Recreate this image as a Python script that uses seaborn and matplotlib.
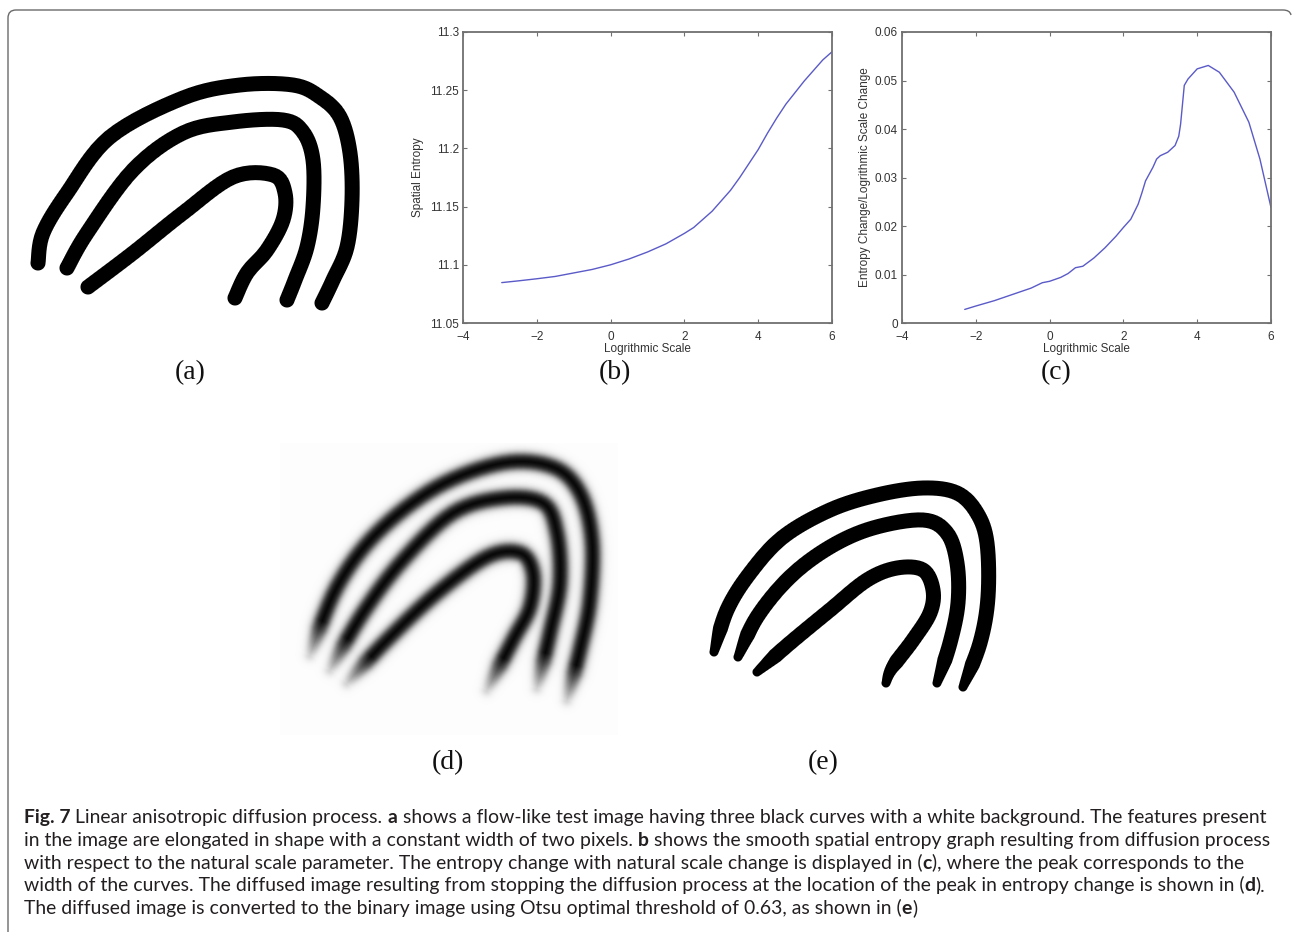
import numpy as np
import matplotlib
matplotlib.use("Agg")
import matplotlib.pyplot as plt
import seaborn as sns
from matplotlib.path import Path
from matplotlib.patches import PathPatch
from matplotlib.ticker import FuncFormatter

# (b) spatial entropy vs logarithmic scale
scale_b = [-2.95, -2.5, -2.0, -1.5, -1.0, -0.5, 0.0, 0.5, 1.0, 1.5, 2.0, 2.25, 2.5,
           2.75, 3.0, 3.25, 3.5, 3.75, 4.0, 4.25, 4.5, 4.75, 5.0, 5.25, 5.5, 5.75, 6.0]
entropy_b = [11.0847, 11.0862, 11.088, 11.090, 11.093, 11.096, 11.100, 11.105,
             11.111, 11.118, 11.127, 11.132, 11.139, 11.146, 11.155, 11.164,
             11.175, 11.187, 11.199, 11.213, 11.226, 11.238, 11.248, 11.258,
             11.267, 11.276, 11.283]

# (c) entropy change / log scale change
scale_c = [-2.3, -2.0, -1.5, -1.0, -0.5, -0.2, 0.0, 0.3, 0.5, 0.7, 0.9, 1.2, 1.5,
           1.8, 2.0, 2.2, 2.4, 2.5, 2.6, 2.8, 2.9, 3.0, 3.2, 3.4, 3.5, 3.55, 3.65,
           3.75, 4.0, 4.3, 4.6, 5.0, 5.4, 5.7, 6.0]
change_c = [0.0028, 0.0035, 0.0046, 0.0059, 0.0072, 0.0083, 0.0086, 0.0094,
            0.0102, 0.0114, 0.0117, 0.0134, 0.0155, 0.0179, 0.0197, 0.0214,
            0.0245, 0.0268, 0.0293, 0.0321, 0.0338, 0.0345, 0.0352, 0.0366,
            0.0385, 0.0410, 0.0490, 0.0503, 0.0524, 0.0531, 0.0517, 0.0476,
            0.0414, 0.0338, 0.0238]

xticks = [-4, -2, 0, 2, 4, 6]
yticks_b = [11.05, 11.1, 11.15, 11.2, 11.25, 11.3]
yticks_c = [0, 0.01, 0.02, 0.03, 0.04, 0.05, 0.06]

# centre lines of the three curves in the test images (pixel coords)
curves_a = [
    [(38, 263), (43, 233), (67, 193), (110, 137), (183, 98), (240, 85), (293, 85),
     (320, 97), (340, 117), (350, 153), (352, 200), (347, 247), (333, 280), (322, 303)],
    [(67, 268), (87, 233), (133, 170), (183, 133), (233, 122), (283, 120), (303, 132),
     (313, 160), (313, 207), (307, 247), (295, 280), (287, 300)],
    [(88, 287), (133, 253), (183, 213), (233, 177), (273, 175), (285, 193), (283, 220),
     (267, 250), (247, 273), (235, 298)],
]
curves_d = [
    [(310, 655), (337, 587), (377, 533), (437, 487), (503, 463), (553, 467), (580, 493),
     (592, 540), (590, 600), (580, 650), (567, 700)],
    [(330, 670), (363, 613), (403, 560), (453, 513), (503, 498), (543, 503), (557, 533),
     (560, 583), (550, 633), (537, 688)],
    [(347, 683), (387, 640), (437, 593), (487, 557), (520, 553), (533, 573), (530, 607),
     (513, 640), (487, 690)],
]
curves_e = [
    [(714, 652), (727, 610), (750, 573), (783, 537), (830, 510), (877, 495), (923, 488),
     (957, 493), (977, 513), (987, 543), (988, 597), (980, 643), (963, 687)],
    [(738, 657), (757, 617), (790, 577), (830, 547), (873, 528), (923, 520), (947, 533),
     (957, 563), (958, 603), (950, 643), (937, 683)],
    [(757, 672), (790, 643), (830, 610), (867, 580), (897, 568), (923, 570), (933, 590),
     (930, 613), (913, 640), (892, 668), (886, 683)],
]

caption = [
    [("Fig. 7", True), (" Linear anisotropic diffusion process. ", False), ("a", True),
     (" shows a flow-like test image having three black curves with a white background. The features present", False)],
    [("in the image are elongated in shape with a constant width of two pixels. ", False), ("b", True),
     (" shows the smooth spatial entropy graph resulting from diffusion process", False)],
    [("with respect to the natural scale parameter. The entropy change with natural scale change is displayed in (", False),
     ("c", True), ("), where the peak corresponds to the", False)],
    [("width of the curves. The diffused image resulting from stopping the diffusion process at the location of the peak in entropy change is shown in (", False),
     ("d", True), (").", False)],
    [("The diffused image is converted to the binary image using Otsu optimal threshold of 0.63, as shown in (", False),
     ("e", True), (")", False)],
]

sns.set_style("ticks")
plt.rcParams['font.family'] = ['Liberation Sans', 'DejaVu Sans']

W, H = 1292, 932
fig = plt.figure(figsize=(W / 100, H / 100), dpi=100)
bg = fig.add_axes([0, 0, 1, 1])
bg.set_xlim(0, W)
bg.set_ylim(H, 0)
bg.axis('off')

# frame round the figure (left + top edge only)
verts = [(8, H), (8, 18), (8, 10), (16, 10), (1283, 10), (1290, 10), (1291, 15)]
codes = [Path.MOVETO, Path.LINETO, Path.CURVE3, Path.CURVE3, Path.LINETO, Path.CURVE3, Path.CURVE3]
bg.add_patch(PathPatch(Path(verts, codes), fill=False, edgecolor='#6a6a6a', lw=1.0))


def smooth(pts, n=8):
    P = np.asarray(pts, float)
    P = np.vstack([P[0], P, P[-1]])
    out = []
    for i in range(1, len(P) - 2):
        p0, p1, p2, p3 = P[i - 1], P[i], P[i + 1], P[i + 2]
        for t in np.linspace(0, 1, n, endpoint=False):
            out.append(0.5 * (2 * p1 + (p2 - p0) * t + (2 * p0 - 5 * p1 + 4 * p2 - p3) * t ** 2
                              + (3 * p1 - p0 - 3 * p2 + p3) * t ** 3))
    out.append(P[-2])
    return np.array(out)


def dist_field(P, X, Y):
    A, B = P[:-1], P[1:]
    seg = B - A
    L = np.hypot(seg[:, 0], seg[:, 1])
    cum = np.concatenate([[0], np.cumsum(L)])
    best_d = np.full(X.shape, np.inf)
    best_s = np.zeros(X.shape)
    for i in range(len(A)):
        if L[i] == 0:
            continue
        t = ((X - A[i, 0]) * seg[i, 0] + (Y - A[i, 1]) * seg[i, 1]) / L[i] ** 2
        t = np.clip(t, 0, 1)
        d = np.hypot(X - (A[i, 0] + t * seg[i, 0]), Y - (A[i, 1] + t * seg[i, 1]))
        m = d < best_d
        best_d = np.where(m, d, best_d)
        best_s = np.where(m, cum[i] + t * L[i], best_s)
    return best_d, best_s, cum[-1]


def render(curves, x0, x1, y0, y1, profile, paper=1.0):
    X, Y = np.meshgrid(np.arange(x0, x1) + 0.5, np.arange(y0, y1) + 0.5)
    white = np.full(X.shape, paper)
    for pts in curves:
        d, s, L = dist_field(smooth(pts), X, Y)
        white *= 1 - profile(d, np.minimum(s, L - s))
    bg.imshow(white, cmap='gray', vmin=0, vmax=1, extent=(x0, x1, y1, y0),
              interpolation='bilinear', aspect='auto', zorder=1)


def sharp(d, e):
    return np.clip(7.5 - d + 0.5, 0, 1)


def blurred(d, e):
    hh = 7.5 * np.clip(0.55 + e / 60, 0, 1)
    return 0.5 * (1 + np.tanh((hh - d) / 4.5)) * np.clip(0.2 + e / 45, 0, 1)


def binary(d, e):
    hh = 7.5 * np.clip(0.6 + e / 60, 0, 1)
    return np.clip(hh - d + 0.5, 0, 1)


render(curves_a, 20, 372, 62, 325, sharp)
render(curves_d, 280, 618, 443, 735, blurred, paper=0.99)
render(curves_e, 695, 1000, 475, 705, binary)
bg.set_xlim(0, W)
bg.set_ylim(H, 0)

serif = dict(family='Liberation Serif', fontsize=20, ha='center', va='center', color='#111111')
for lbl, x, y in [("(a)", 190, 373), ("(b)", 615, 373), ("(c)", 1056, 373),
                  ("(d)", 448, 763), ("(e)", 823, 763)]:
    bg.text(x, y, lbl, **serif)

line_color = '#5a5ac8'


def style_axes(ax, xlabel, ylabel, yticks, ypad):
    ax.set_xlim(-4, 6)
    ax.set_ylim(yticks[0], yticks[-1])
    ax.set_xticks(xticks)
    ax.set_yticks(yticks)
    ax.yaxis.set_major_formatter(FuncFormatter(lambda v, p: '%g' % v))
    for sp in ax.spines.values():
        sp.set_visible(True)
        sp.set_color('#707070')
        sp.set_linewidth(1.3)
    ax.tick_params(direction='in', top=True, right=True, length=3, width=0.8,
                   color='#707070', labelsize=8.5, labelcolor='#333333', pad=3)
    ax.tick_params(axis='x', pad=6)
    ax.set_xlabel(xlabel, fontsize=8.5, color='#333333', labelpad=0)
    ax.set_ylabel(ylabel, fontsize=8.5, color='#333333', labelpad=ypad)
    ax.grid(False)


ax_b = fig.add_axes([463 / W, 1 - 323 / H, 369 / W, 291 / H])
sns.lineplot(x=scale_b, y=entropy_b, ax=ax_b, color=line_color, lw=1)
style_axes(ax_b, "Logrithmic Scale", "Spatial Entropy", yticks_b, 4)

ax_c = fig.add_axes([902 / W, 1 - 323 / H, 369 / W, 291 / H])
sns.lineplot(x=scale_c, y=change_c, ax=ax_c, color=line_color, lw=1)
style_axes(ax_c, "Logrithmic Scale", "Entropy Change/Logrithmic Scale Change", yticks_c, 3)

# caption, bold run-ins drawn piece by piece
renderer = fig.canvas.get_renderer()
cap = dict(family='Lato', color='#231f20')


def seg_width(s, size, bold):
    kw = dict(fontsize=size, fontweight='bold' if bold else 'normal', **cap)
    t1 = bg.text(0, 0, s + "|", **kw)
    t2 = bg.text(0, 0, "|", **kw)
    w = t1.get_window_extent(renderer).width - t2.get_window_extent(renderer).width
    t1.remove()
    t2.remove()
    return w


probe = sum(seg_width(s, 10, b) for s, b in caption[3])
cap_size = 10 * (1268 - 24) / probe

for k, line in enumerate(caption):
    x = 24
    y = 823 + k * 22.8
    for s, b in line:
        bg.text(x, y, s, fontsize=cap_size, fontweight='bold' if b else 'normal',
                va='baseline', ha='left', **cap)
        x += seg_width(s, cap_size, b)

fig.savefig("out.png", dpi=100)
